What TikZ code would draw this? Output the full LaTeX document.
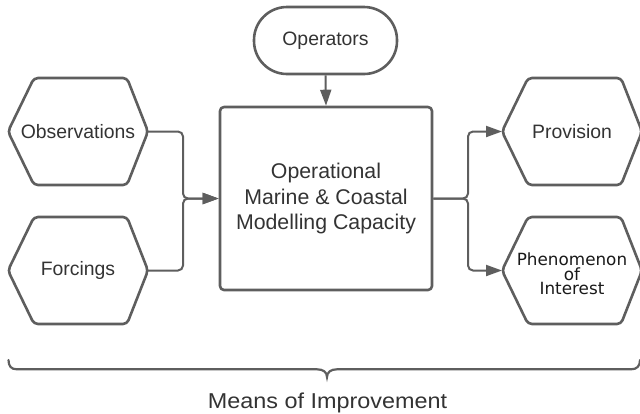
\documentclass[tikz,border=0pt]{standalone}
\usepackage{fontspec}
\setmainfont{Liberation Sans}
\newfontfamily\djv{DejaVu Sans}
\usetikzlibrary{arrows.meta}
\definecolor{ln}{HTML}{5E5E5E}
\definecolor{tx}{HTML}{333333}
\newcommand\hexpath[1]{%
  \draw[shapeline,rounded corners=4bp] ([xshift=60bp]#1.north west) -- ([xshift=-21bp]#1.north east) -- (#1.east) -- ([xshift=-21bp]#1.south east) -- ([xshift=26bp]#1.south west) -- (#1.west) -- ([xshift=26bp]#1.north west) -- cycle;}
\begin{document}
\begin{tikzpicture}[x=1bp,y=-1bp,
  shapeline/.style={draw=ln,line width=2.6bp,line join=round},
  conn/.style={draw=ln,line width=2bp,rounded corners=5bp,-{Triangle[length=16bp,width=11bp]}},
  lbl/.style={text=tx,font=\fontsize{19.4bp}{23bp}\selectfont,inner sep=0pt,align=center},
  hexbox/.style={minimum width=140bp,minimum height=107bp,inner sep=0pt,outer sep=0pt}]
\useasboundingbox (0,0) rectangle (640,413);

% nodes
\node[hexbox,lbl] (obs) at (78,131.5) {Observations};
\node[hexbox,lbl] (forc) at (78,270.5) {Forcings};
\node[hexbox,lbl] (prov) at (572,131.5) {Provision};
\node[hexbox] (phen) at (572,270.5) {};
\node[lbl,text=black!90,font=\djv\fontsize{16.8bp}{14.4bp}\selectfont] (phentext) at ([yshift=-3.5bp]phen.center) {Phenomenon\\of\\Interest};
\hexpath{obs}
\hexpath{forc}
\hexpath{prov}
\hexpath{phen}

\node[shapeline,rounded corners=4bp,minimum width=212bp,minimum height=183bp,inner sep=0pt,
      text=tx,align=center,font=\fontsize{21.3bp}{25.5bp}\selectfont] (core) at (326,198.5)
      {Operational\\Marine \& Coastal\\Modelling Capacity};

\node[shapeline,rounded corners=33bp,minimum width=143bp,minimum height=67bp,lbl] (ops) at (325.5,40.5) {Operators};

% connectors
\path (core.west) ++(-35.7bp,0) coordinate (jl);
\path (core.east) ++(34.7bp,0) coordinate (jr);
\draw[conn] (obs.east) -| (jl) -- (core.west);
\draw[conn] (forc.east) -| (jl) -- (core.west);
\draw[conn] (core.east) -- (jr) |- (prov.west);
\draw[conn] (core.east) -- (jr) |- (phen.west);
\draw[conn] (ops.south) -- (core.north);

% brace
\draw[draw=ln,line width=2.2bp,line cap=round] (8.5,360) .. controls (8.5,366) and (11,369.3) .. (17,369.3) -- (317,369.3) .. controls (323,369.3) and (327,372) .. (327,377) .. controls (327,372) and (331,369.3) .. (337,369.3) -- (631,369.3) .. controls (637,369.3) and (640,366) .. (640,360);

\node[anchor=base,inner sep=0pt,text=tx] (moi) at (327.5,408.7)
  {\scalebox{1}[0.92]{\fontsize{23.4bp}{26bp}\selectfont Means of Improvement}};
\end{tikzpicture}
\end{document}
